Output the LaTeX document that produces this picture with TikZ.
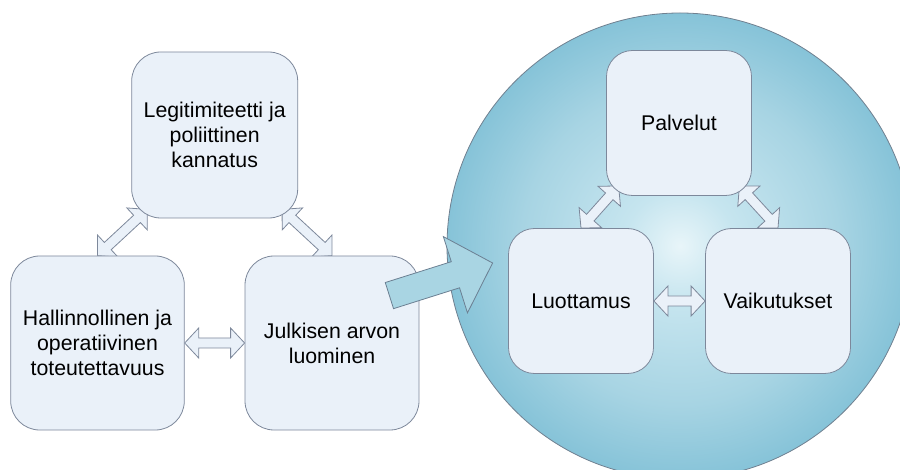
\documentclass[tikz,border=0pt]{standalone}
\usepackage{fontspec}
\setmainfont{Liberation Sans}
\usetikzlibrary{calc}

\definecolor{boxfill}{HTML}{EAF1F9}
\definecolor{boxline}{HTML}{7D889B}
\definecolor{ballin}{HTML}{E8F5F9}
\definecolor{ballmid}{HTML}{C6E5EF}
\definecolor{ballmidb}{HTML}{A7D4E3}
\definecolor{ballout}{HTML}{86C3D8}
\definecolor{ballline}{HTML}{708090}
\definecolor{bigfill}{HTML}{A9D5E3}
\definecolor{bigline}{HTML}{6B7F92}

% soft glow for the sphere: light centre, deeper blue rim (rim sits at 25bp)
\pgfdeclareradialshading{ballglow}{\pgfpoint{0bp}{0bp}}{%
  color(0bp)=(ballin); color(6bp)=(ballmid); color(17bp)=(ballmidb);
  color(25bp)=(ballout); color(50bp)=(ballout)}

\pgfdeclarelayer{ballayer}
\pgfdeclarelayer{links}
\pgfsetlayers{ballayer,links,main}

% two-headed block arrow between two tip points
\newcommand\twoway[2]{%
  \draw[twoarrow] (#1)
    -- ($(#1)!14pt!(#2)!15pt!90:(#2)$)
    -- ($(#1)!14pt!(#2)!5pt!90:(#2)$)
    -- ($(#2)!14pt!(#1)!5pt!-90:(#1)$)
    -- ($(#2)!14pt!(#1)!15pt!-90:(#1)$)
    -- (#2)
    -- ($(#2)!14pt!(#1)!15pt!90:(#1)$)
    -- ($(#2)!14pt!(#1)!5pt!90:(#1)$)
    -- ($(#1)!14pt!(#2)!5pt!-90:(#2)$)
    -- ($(#1)!14pt!(#2)!15pt!-90:(#2)$)
    -- cycle;}

\tikzset{
  card/.style={draw=boxline, fill=boxfill, line width=0.8pt, align=center,
    inner sep=0pt, font=\fontsize{21.3}{25}\selectfont},
  bigcard/.style={card, rounded corners=29pt},
  smallcard/.style={card, rounded corners=26pt, minimum width=145pt, minimum height=145pt},
  twoarrow/.style={fill=boxfill, draw=boxline, line width=0.8pt, line join=miter},
  bigarrow/.style={fill=bigfill, draw=bigline, line width=0.8pt, line join=miter},
}

\begin{document}
\begin{tikzpicture}[x=1pt, y=-1pt]
\useasboundingbox (0,0) rectangle (900,470);

% sphere on the right
\begin{pgfonlayer}{ballayer}
  \node[circle, minimum size=466pt, inner sep=0pt, shading=ballglow,
        draw=ballline, line width=0.8pt] (ball) at (680,246) {};
\end{pgfonlayer}

% left triangle of boxes
\node[bigcard, minimum width=166pt, minimum height=166pt] (legit) at (214.7,135)
  {Legitimiteetti ja\\poliittinen\\kannatus};
\node[bigcard, minimum width=173.6pt, minimum height=174pt] (hal) at (97.5,343)
  {Hallinnollinen ja\\operatiivinen\\toteutettavuus};
\node[bigcard, minimum width=174pt, minimum height=174pt] (jul) at (332,343)
  {Julkisen arvon\\luominen};

% boxes inside the sphere
\node[smallcard] (pal) at (679,123) {Palvelut};
\node[smallcard] (luo) at (581,301) {Luottamus};
\node[smallcard] (vai) at (778,301) {Vaikutukset};

% arrow ends tucked under the upper boxes' corners
\coordinate (legitL) at ($(legit.south west)+(16,-9)$);
\coordinate (legitR) at ($(legit.south east)+(-16,-9)$);
\coordinate (palL) at ($(pal.south west)+(12.5,-10)$);
\coordinate (palR) at ($(pal.south east)+(-12.5,-10)$);

\begin{pgfonlayer}{links}
  \twoway{hal.north}{legitL}
  \twoway{jul.north}{legitR}
  \twoway{hal.east}{jul.west}
  \twoway{luo.north}{palL}
  \twoway{vai.north}{palR}
  \twoway{luo.east}{vai.west}
\end{pgfonlayer}

% broad arrow from the left triangle into the sphere
\coordinate (bigtail) at ($(jul.north east)+(-30,40)$);
\coordinate (bigtip) at ($(ball.west)+(46,17)$);
\draw[bigarrow]
  ($(bigtail)!13.7pt!90:(bigtip)$)
  -- ($(bigtip)!39pt!(bigtail)!13.7pt!-90:(bigtail)$)
  -- ($(bigtip)!39pt!(bigtail)!40pt!-90:(bigtail)$)
  -- (bigtip)
  -- ($(bigtip)!39pt!(bigtail)!40pt!90:(bigtail)$)
  -- ($(bigtip)!39pt!(bigtail)!13.7pt!90:(bigtail)$)
  -- ($(bigtail)!13.7pt!-90:(bigtip)$)
  -- cycle;
\end{tikzpicture}
\end{document}
